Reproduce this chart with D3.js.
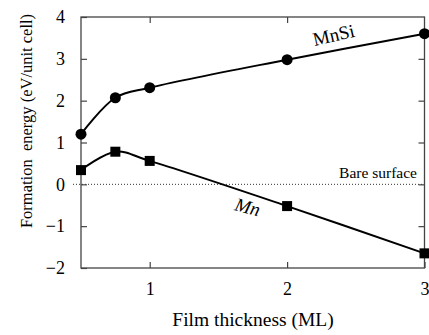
<!DOCTYPE html>
<html>
<head>
<meta charset="utf-8">
<script src="https://cdn.jsdelivr.net/npm/d3@7"></script>
<style>
  body { margin: 0; background: #fff; }
  svg { display: block; }
</style>
</head>
<body>
<div id="chart"></div>
<script>
// Film thickness (ML)
const thickness = [0.5, 0.75, 1, 2, 3];
const mnSiEnergy = [1.2, 2.07, 2.31, 2.98, 3.6];
const mnEnergy = [0.34, 0.78, 0.56, -0.52, -1.65];
const xTicks = [1, 2, 3];
const yTicks = [-2, -1, 0, 1, 2, 3, 4];

const FONT = '"Liberation Serif", "Times New Roman", serif';
const W = 429, H = 335;
const margin = { top: 17, right: 3, bottom: 67, left: 81 };
const width = W - margin.left - margin.right,
      height = H - margin.top - margin.bottom;

const svg = d3.select("#chart").append("svg")
  .attr("width", W).attr("height", H)
  .style("font-family", FONT);

const g = svg.append("g")
  .attr("transform", `translate(${margin.left},${margin.top})`);

const x = d3.scaleLinear().domain([0.5, 3]).range([0, width - 1.5]);
const y = d3.scaleLinear().domain([-2, 4]).range([height, 0]);

// Linea de referencia: superficie desnuda
g.append("line")
  .attr("x1", -8).attr("x2", width)
  .attr("y1", y(0)).attr("y2", y(0))
  .attr("stroke", "#333").attr("stroke-width", 1)
  .attr("stroke-dasharray", "1,2");

g.append("text")
  .attr("x", width - 9).attr("y", y(0) - 6)
  .attr("text-anchor", "end")
  .style("font-family", FONT)
  .style("font-size", "15.5px")
  .text("Bare surface");

// Ejes (ticks hacia dentro)
const tickStyle = sel => {
  sel.style("font-family", FONT);
  sel.select(".domain").remove();
  sel.selectAll(".tick line").attr("stroke", "#444").attr("stroke-width", 1.2);
  sel.selectAll(".tick text")
    .style("font-family", FONT)
    .style("font-size", "18px").attr("fill", "#000");
};

g.append("g").attr("transform", `translate(0,${height})`)
  .call(d3.axisBottom(x).tickValues(xTicks).tickFormat(d3.format("d")).tickSizeInner(-6).tickPadding(14))
  .call(tickStyle);
g.append("g")
  .call(d3.axisTop(x).tickValues([1, 2]).tickSizeInner(-6).tickFormat(""))
  .call(tickStyle);
g.append("g")
  .call(d3.axisLeft(y).tickValues(yTicks).tickFormat(d3.format("d")).tickSizeInner(-6).tickPadding(16))
  .call(tickStyle);
g.append("g").attr("transform", `translate(${x(3)},0)`)
  .call(d3.axisRight(y).tickValues([-1, 0, 1, 2, 3]).tickSizeInner(-6).tickFormat(""))
  .call(tickStyle);

// Marco
g.append("rect")
  .attr("x", 0).attr("y", 0)
  .attr("width", x(3)).attr("height", height)
  .attr("fill", "none").attr("stroke", "#444").attr("stroke-width", 1.3);

// Curvas
const line = d3.line()
  .x(d => x(d[0])).y(d => y(d[1]))
  .curve(d3.curveCatmullRom.alpha(0.5));

const mnSi = thickness.map((t, i) => [t, mnSiEnergy[i]]);
const mn = thickness.map((t, i) => [t, mnEnergy[i]]);

[mnSi, mn].forEach(s => {
  g.append("path").datum(s)
    .attr("d", line)
    .attr("fill", "none").attr("stroke", "#000").attr("stroke-width", 2);
});

g.selectAll(".dot").data(mnSi).enter().append("circle")
  .attr("cx", d => x(d[0])).attr("cy", d => y(d[1]))
  .attr("r", 5.5).attr("fill", "#000");

g.selectAll(".sq").data(mn).enter().append("rect")
  .attr("x", d => x(d[0]) - 5).attr("y", d => y(d[1]) - 5)
  .attr("width", 10).attr("height", 10).attr("fill", "#000");

// Etiquetas de series
g.append("text")
  .attr("transform", `translate(${x(2.35)},${y(3.42)}) rotate(-13)`)
  .attr("text-anchor", "middle")
  .style("font-family", FONT)
  .style("font-size", "19px")
  .text("MnSi");

g.append("text")
  .attr("transform", `translate(${x(1.7)},${y(-0.69)}) rotate(15)`)
  .attr("text-anchor", "middle")
  .style("font-family", FONT)
  .style("font-style", "italic")
  .style("font-size", "19px")
  .text("Mn");

// Titulos de ejes
svg.append("text")
  .attr("x", 253).attr("y", 326)
  .attr("text-anchor", "middle")
  .style("font-family", FONT)
  .style("font-size", "19.5px")
  .text("Film thickness (ML)");

svg.append("text")
  .attr("transform", `translate(32,${121}) rotate(-90)`)
  .attr("text-anchor", "middle")
  .style("font-family", FONT)
  .style("font-size", "16.5px")
  .text("Formation\u00a0 energy (eV/unit cell)");
</script>
</body>
</html>
